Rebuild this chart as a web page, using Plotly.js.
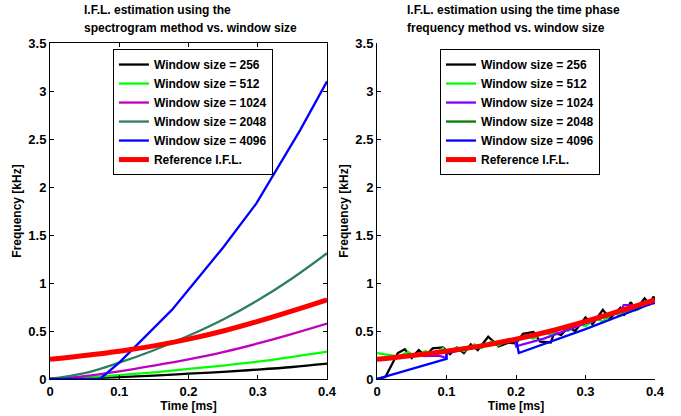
<!DOCTYPE html>
<html>
<head>
<meta charset="utf-8">
<script src="https://cdn.plot.ly/plotly-3.0.1.min.js"></script>
<style>html,body{margin:0;padding:0;background:#fff;}#chart{width:681px;height:416px;}</style>
</head>
<body>
<div id="chart"></div>
<script>
// ---------- data ----------
var seriesNames = ['Window size = 256','Window size = 512','Window size = 1024','Window size = 2048','Window size = 4096','Reference I.F.L.'];

// reference I.F.L. (same in both panels)
var refT = [0, 0.05, 0.1, 0.15, 0.2, 0.25, 0.3, 0.35, 0.4];
var refF = [0.205, 0.245, 0.29, 0.345, 0.415, 0.5, 0.6, 0.71, 0.825];

// left panel: spectrogram method
var specT = [0, 0.05, 0.1, 0.15, 0.2, 0.25, 0.3, 0.35, 0.4];
var spec256  = [0, 0.007, 0.02, 0.035, 0.055, 0.075, 0.098, 0.125, 0.16];
var spec512  = [0, 0.015, 0.04, 0.07, 0.105, 0.14, 0.18, 0.23, 0.285];
var spec1024 = [0, 0.03, 0.08, 0.14, 0.205, 0.28, 0.37, 0.47, 0.577];
var spec2048 = [0, 0.06, 0.17, 0.3, 0.45, 0.62, 0.82, 1.05, 1.31];
var spec4096T = [0, 0.072, 0.1, 0.135, 0.176, 0.2, 0.25, 0.298, 0.327, 0.361, 0.4];
var spec4096  = [0, 0, 0.17, 0.42, 0.72, 0.93, 1.37, 1.83, 2.18, 2.59, 3.1];

// right panel: time phase frequency method
var tp256T = [0, 0.012, 0.03, 0.04, 0.05, 0.06, 0.07, 0.08, 0.095, 0.105, 0.115, 0.125, 0.135, 0.145, 0.16, 0.175, 0.19, 0.2, 0.21, 0.225, 0.235, 0.25, 0.255, 0.265, 0.275, 0.285, 0.3, 0.31, 0.325, 0.335, 0.35, 0.355, 0.365, 0.372, 0.385, 0.392, 0.398, 0.4];
var tp256  = [0.0, 0.02, 0.27, 0.31, 0.22, 0.30, 0.24, 0.32, 0.33, 0.26, 0.33, 0.27, 0.36, 0.30, 0.44, 0.34, 0.38, 0.37, 0.47, 0.49, 0.39, 0.38, 0.48, 0.46, 0.54, 0.50, 0.64, 0.57, 0.72, 0.63, 0.74, 0.66, 0.80, 0.72, 0.84, 0.78, 0.86, 0.80];
var tp512T = [0, 0.03, 0.045, 0.055, 0.07, 0.08, 0.095, 0.1, 0.115, 0.125, 0.14, 0.15, 0.165, 0.175, 0.19, 0.2, 0.215, 0.225, 0.24, 0.25, 0.265, 0.275, 0.29, 0.3, 0.315, 0.325, 0.34, 0.35, 0.365, 0.375, 0.39, 0.4];
var tp512  = [0.27, 0.235, 0.28, 0.235, 0.29, 0.25, 0.32, 0.27, 0.33, 0.29, 0.36, 0.32, 0.39, 0.35, 0.42, 0.39, 0.45, 0.42, 0.49, 0.46, 0.53, 0.50, 0.58, 0.55, 0.63, 0.60, 0.69, 0.66, 0.75, 0.72, 0.80, 0.80];
var tp1024T = [0, 0.05, 0.09, 0.1, 0.1, 0.15, 0.2, 0.2, 0.24, 0.3, 0.35, 0.355, 0.372, 0.4];
var tp1024  = [0.2, 0.24, 0.24, 0.22, 0.3, 0.35, 0.42, 0.34, 0.42, 0.58, 0.70, 0.77, 0.77, 0.79];
var tp2048T = [0, 0.1, 0.2, 0.3, 0.4];
var tp2048  = [0.2, 0.28, 0.41, 0.59, 0.8];
var tp4096T = [0, 0.1, 0.1, 0.2, 0.204, 0.3, 0.4];
var tp4096  = [0.0, 0.21, 0.27, 0.42, 0.27, 0.52, 0.80];

// axis ticks
var xTicks = [0, 0.1, 0.2, 0.3, 0.4];
var xTickText = ['0', '0.1', '0.2', '0.3', '0.4'];
var yTicks = [0, 0.5, 1, 1.5, 2, 2.5, 3, 3.5];
var yTickText = ['0', '0.5', '1', '1.5', '2', '2.5', '3', '3.5'];

var leftTitle = ['I.F.L. estimation using the', 'spectrogram method vs. window size'];
var rightTitle = ['I.F.L. estimation using the time phase', 'frequency method vs. window size'];

// ---------- styles ----------
var FONT = 'Liberation Sans, Arial, Helvetica, sans-serif';
var leftColors = ['#000000', '#00ff00', '#c000c0', '#2e7f5e', '#0000ff', '#ff0000'];
var rightColors = ['#000000', '#00ff00', '#8000ff', '#007f00', '#0000ff', '#ff0000'];

function tr(x, y, i, colors, xa, ya, leg, smooth) {
  return {
    x: x, y: y, type: 'scatter', mode: 'lines', name: seriesNames[i],
    xaxis: xa, yaxis: ya, legend: leg,
    line: {color: colors[i], width: i === 5 ? 5 : 2.3, shape: smooth ? 'spline' : 'linear', smoothing: 1}
  };
}

var traces = [
  tr(specT, spec256, 0, leftColors, 'x', 'y', 'legend', true),
  tr(specT, spec512, 1, leftColors, 'x', 'y', 'legend', true),
  tr(specT, spec1024, 2, leftColors, 'x', 'y', 'legend', true),
  tr(specT, spec2048, 3, leftColors, 'x', 'y', 'legend', true),
  tr(spec4096T, spec4096, 4, leftColors, 'x', 'y', 'legend', false),
  tr(refT, refF, 5, leftColors, 'x', 'y', 'legend', true),
  tr(tp256T, tp256, 0, rightColors, 'x2', 'y2', 'legend2', false),
  tr(tp512T, tp512, 1, rightColors, 'x2', 'y2', 'legend2', false),
  tr(tp1024T, tp1024, 2, rightColors, 'x2', 'y2', 'legend2', false),
  tr(tp2048T, tp2048, 3, rightColors, 'x2', 'y2', 'legend2', false),
  tr(tp4096T, tp4096, 4, rightColors, 'x2', 'y2', 'legend2', false),
  tr(refT, refF, 5, rightColors, 'x2', 'y2', 'legend2', true)
];

var tickFont = {family: FONT, size: 13, color: '#000', weight: 'bold'};
var labFont = {family: FONT, size: 12, color: '#000', weight: 'bold'};

function xAxis(domain, mirror, anchor) {
  return {
    domain: domain, anchor: anchor, range: [0, 0.4], tickvals: xTicks, ticktext: xTickText,
    ticks: 'inside', ticklen: 4, tickcolor: '#000', showline: true, linecolor: '#000', linewidth: 1,
    mirror: mirror, showgrid: false, zeroline: false, tickfont: tickFont,
    title: {text: 'Time [ms]', font: labFont, standoff: 3}
  };
}
function yAxis(mirror, anchor) {
  return {
    domain: [0, 1], anchor: anchor, range: [0, 3.5], tickvals: yTicks, ticktext: yTickText,
    ticks: 'inside', ticklen: 4, tickcolor: '#000', showline: true, linecolor: '#000', linewidth: 1,
    mirror: mirror, showgrid: false, zeroline: false, tickfont: tickFont,
    title: {text: 'Frequency [kHz]', font: labFont, standoff: 4}
  };
}

function legendBox(x) {
  return {
    x: x, y: 0.982, xanchor: 'left', yanchor: 'top', xref: 'paper', yref: 'paper',
    bgcolor: '#fff', bordercolor: '#000', borderwidth: 1,
    font: {family: FONT, size: 12, color: '#000', weight: 'bold'},
    itemwidth: 30, tracegroupgap: 0
  };
}

function titleAnn(text, x, y) {
  return {
    text: text, x: x, y: y, xref: 'paper', yref: 'paper', xanchor: 'left', yanchor: 'middle',
    showarrow: false, font: {family: FONT, size: 12, color: '#000', weight: 'bold'}
  };
}

var layout = {
  width: 681, height: 416,
  margin: {l: 50, r: 26, t: 43, b: 37, pad: 0},
  paper_bgcolor: '#fff', plot_bgcolor: '#fff',
  showlegend: true,
  xaxis: xAxis([0, 0.4579], 'ticks', 'y'),
  yaxis: yAxis('ticks', 'x'),
  xaxis2: xAxis([0.5405, 1], false, 'y2'),
  yaxis2: yAxis(false, 'x2'),
  legend: legendBox(0.104),
  legend2: legendBox(0.6446),
  annotations: [
    titleAnn(leftTitle[0], 0.0529, 1.098),
    titleAnn(leftTitle[1], 0.0529, 1.0446),
    titleAnn(rightTitle[0], 0.5868, 1.098),
    titleAnn(rightTitle[1], 0.5868, 1.0446)
  ]
};

Plotly.newPlot('chart', traces, layout, {staticPlot: true, displayModeBar: false});
</script>
</body>
</html>
